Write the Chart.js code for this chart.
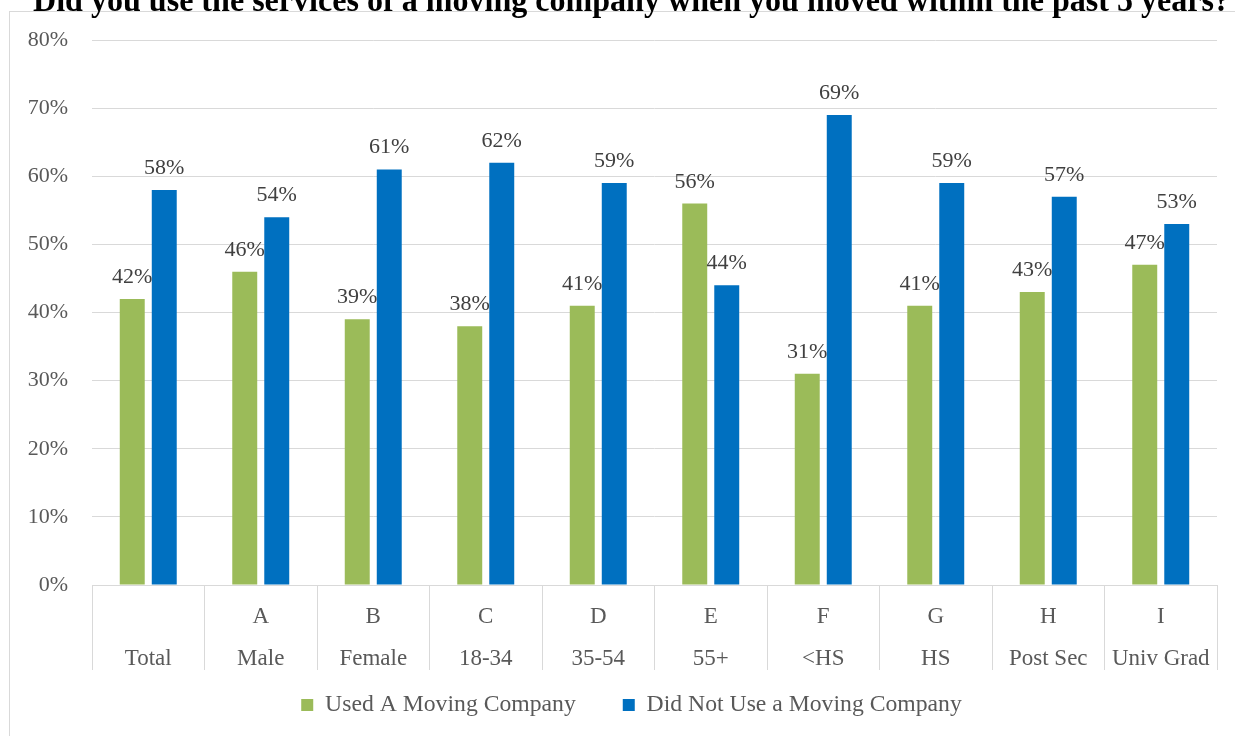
<!DOCTYPE html>
<html>
<head>
<meta charset="utf-8">
<script src="https://cdn.jsdelivr.net/npm/chart.js@4.4.1/dist/chart.umd.min.js"></script>
<style>
  html, body { margin: 0; padding: 0; background: #ffffff; }
  #wrap { position: relative; width: 1235px; height: 736px; overflow: hidden; }
  #frame { position: absolute; left: 9px; top: 11px; width: 1300px; height: 800px;
           border: 1px solid #d9d9d9; box-sizing: border-box; }
  #c { position: absolute; left: 0; top: 0; }
</style>
</head>
<body>
<div id="wrap">
  <div id="frame"></div>
  <canvas id="c" width="1235" height="736"></canvas>
</div>
<script>
// Survey groups: column letter and group name
const groupCodes = ['', 'A', 'B', 'C', 'D', 'E', 'F', 'G', 'H', 'I'];
const groupNames = ['Total', 'Male', 'Female', '18-34', '35-54', '55+', '<HS', 'HS', 'Post Sec', 'Univ Grad'];

// Percent of respondents in each group
const usedCompany = [42, 46, 39, 38, 41, 56, 31, 41, 43, 47];
const didNotUse   = [58, 54, 61, 62, 59, 44, 69, 59, 57, 53];

// Value axis ticks (percent)
const yTickValues = [0, 10, 20, 30, 40, 50, 60, 70, 80];

const SERIF = '"Liberation Serif", "Times New Roman", Times, serif';
Chart.defaults.font.family = SERIF;

// Let tick labels run outside their axis boxes (two-line group labels, % ticks)
const freeTickLabels = {
  id: 'freeTickLabels',
  beforeDraw(chart) {
    Object.values(chart.scales).forEach(s => { s._computeLabelArea = () => undefined; });
  }
};

// Writes each bar's value just above it
const valueLabels = {
  id: 'valueLabels',
  afterDatasetsDraw(chart) {
    const ctx = chart.ctx;
    ctx.save();
    ctx.font = '22px ' + SERIF;
    ctx.fillStyle = '#404040';
    ctx.textAlign = 'center';
    ctx.textBaseline = 'alphabetic';
    chart.data.datasets.forEach((ds, di) => {
      const meta = chart.getDatasetMeta(di);
      meta.data.forEach((bar, i) => {
        ctx.fillText(ds.data[i] + '%', bar.x, bar.y - 16);
      });
    });
    ctx.restore();
  }
};

new Chart(document.getElementById('c'), {
  type: 'bar',
  data: {
    labels: groupCodes.map((code, i) => [code, groupNames[i]]),
    datasets: [
      {
        label: 'Used A Moving Company',
        data: usedCompany,
        backgroundColor: '#9BBB59',
        categoryPercentage: 0.569,
        barPercentage: 0.78
      },
      {
        label: 'Did Not Use a Moving Company',
        data: didNotUse,
        backgroundColor: '#0070C0',
        categoryPercentage: 0.569,
        barPercentage: 0.78
      }
    ]
  },
  options: {
    responsive: false,
    animation: false,
    layout: { padding: { left: 33, right: 5, top: 0, bottom: 9.15 } },
    plugins: {
      title: {
        display: true,
        text: 'Did you use the services of a moving company when you moved within the past 5 years?',
        color: '#000000',
        font: { family: SERIF, size: 33, weight: 'bold', lineHeight: 1.2 },
        padding: { top: -17.8, bottom: 18.2 }
      },
      legend: {
        position: 'bottom',
        labels: {
          boxWidth: 12,
          boxHeight: 12,
          padding: 47,
          color: '#595959',
          font: { family: SERIF, size: 23.7 }
        }
      },
      tooltip: { enabled: false }
    },
    scales: {
      x: {
        grid: {
          offset: true,
          drawOnChartArea: false,
          drawTicks: true,
          tickLength: 85,
          color: '#d9d9d9'
        },
        border: { display: true, color: '#d9d9d9' },
        ticks: {
          color: '#595959',
          padding: -74,
          maxRotation: 0,
          autoSkip: false,
          font: { family: SERIF, size: 23, lineHeight: 42 / 23 }
        },
        afterFit(scale) { scale.height = 61.15; }
      },
      y: {
        min: 0,
        max: 80,
        grid: { color: '#d9d9d9', drawTicks: false },
        border: { display: false },
        ticks: {
          color: '#595959',
          padding: 24,
          font: { family: SERIF, size: 22 },
          callback: (v) => v + '%'
        },
        afterBuildTicks(scale) { scale.ticks = yTickValues.map(v => ({ value: v })); },
        afterFit(scale) { scale.width = 59; }
      },
      // blank right-hand margin strip beside the plot
      yRight: {
        position: 'right',
        display: true,
        min: 0,
        max: 80,
        grid: { display: false, drawTicks: false },
        border: { display: false },
        ticks: { display: false },
        afterFit(scale) { scale.width = 13; }
      }
    }
  },
  plugins: [freeTickLabels, valueLabels]
});
</script>
</body>
</html>
